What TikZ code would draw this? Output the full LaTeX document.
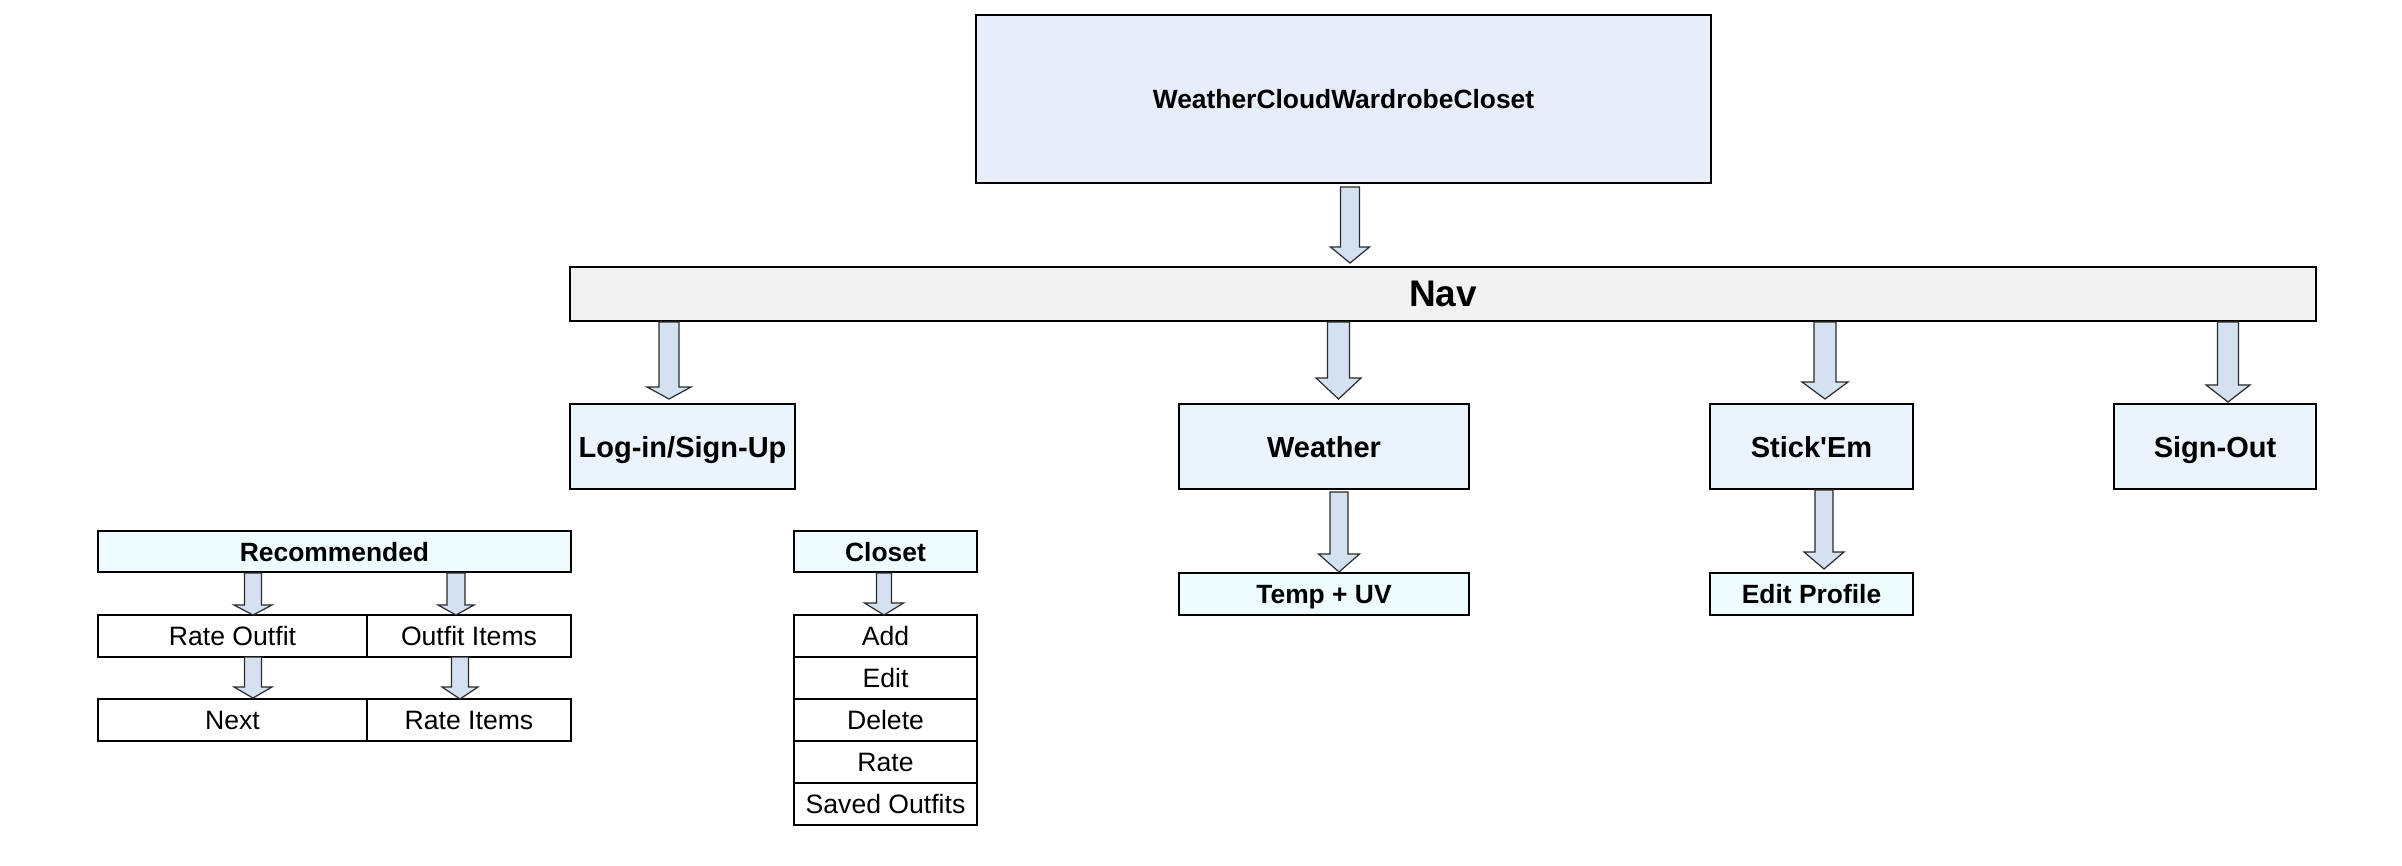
\documentclass[tikz,border=0pt]{standalone}
\usepackage{fontspec}
\setmainfont{Liberation Sans}
\usetikzlibrary{calc}
\definecolor{topfill}{HTML}{E8EEF9}
\definecolor{navfill}{HTML}{F2F2F2}
\definecolor{lvlfill}{HTML}{EBF3FD}
\definecolor{subfill}{HTML}{EEFCFF}
\definecolor{arrfill}{HTML}{D4E1F0}
\definecolor{arrline}{HTML}{2B2B2B}
\tikzset{
  box/.style={draw=black, line width=0.8pt, inner sep=0pt, outer sep=0pt, align=center,
    text depth=0pt},
  sz/.style 2 args={minimum width=#1*0.5pt, minimum height=#2*0.5pt},
  topbox/.style={box, fill=topfill, font=\fontsize{13.2}{16}\selectfont\bfseries},
  navbox/.style={box, fill=navfill, font=\fontsize{18.5}{22}\selectfont\bfseries},
  lvlbox/.style={box, fill=lvlfill, font=\fontsize{14.5}{17}\selectfont\bfseries},
  subbox/.style={box, fill=subfill, font=\fontsize{13.2}{16}\selectfont\bfseries},
  itembox/.style={box, fill=white, font=\fontsize{13.3}{16}\selectfont},
  blockarr/.style={draw=arrline, fill=arrfill, line width=0.6pt, line join=miter},
}
% #1 x (px), #2 source, #3 target, #4 shaft half width, #5 head half width, #6 head length, #7 start gap, #8 end gap (px)
\newcommand{\blockarrow}[8]{%
  \path[blockarr] let \p3=(#1,0), \p1=(#2.south), \p2=(#3.north) in
    (\x3-#4*0.5pt,\y1-#7*0.5pt) -- (\x3+#4*0.5pt,\y1-#7*0.5pt)
    -- (\x3+#4*0.5pt,\y2+#8*0.5pt+#6*0.5pt) -- (\x3+#5*0.5pt,\y2+#8*0.5pt+#6*0.5pt)
    -- (\x3,\y2+#8*0.5pt)
    -- (\x3-#5*0.5pt,\y2+#8*0.5pt+#6*0.5pt) -- (\x3-#4*0.5pt,\y2+#8*0.5pt+#6*0.5pt) -- cycle;}
\begin{document}
\begin{tikzpicture}[x=0.5pt, y=-0.5pt]
\useasboundingbox (0,0) rectangle (2402,866);
\fill[white] (0,0) rectangle (2402,866);

\node[topbox, sz={735}{168}] (top) at (1343.5,99) {WeatherCloudWardrobeCloset};
\node[navbox, sz={1746}{54}] (nav) at (1443,294) {Nav};

\node[lvlbox, sz={225}{85}] (login) at (682.5,446.5) {Log-in/Sign-Up};
\node[lvlbox, sz={290}{85}] (weather) at (1324,446.5) {Weather};
\node[lvlbox, sz={203}{85}] (stickem) at (1811.5,446.5) {Stick\textquotesingle Em};
\node[lvlbox, sz={202}{85}] (signout) at (2215,446.5) {Sign-Out};

\node[subbox, sz={290}{42}] (temp) at (1324,594) {Temp + UV};
\node[subbox, sz={203}{42}] (editp) at (1811.5,594) {Edit Profile};

\node[subbox, sz={473}{41}] (rec) at (334.5,551.5) {Recommended};
\node[itembox, sz={269}{42}] (rateout) at (232.5,636) {Rate Outfit};
\node[itembox, sz={204}{42}] (outitems) at (469,636) {Outfit Items};
\node[itembox, sz={269}{42}] (next) at (232.5,720) {Next};
\node[itembox, sz={204}{42}] (rateitems) at (469,720) {Rate Items};

\node[subbox, sz={183}{41}] (closet) at (885.5,551.5) {Closet};
\node[itembox, sz={183}{42}] (add) at (885.5,636) {Add};
\node[itembox, sz={183}{42}] (edit) at (885.5,678) {Edit};
\node[itembox, sz={183}{42}] (delete) at (885.5,720) {Delete};
\node[itembox, sz={183}{42}] (rate) at (885.5,762) {Rate};
\node[itembox, sz={183}{42}] (saved) at (885.5,804) {Saved Outfits};

\blockarrow{1350}{top}{nav}{9.5}{19.5}{16}{4}{4}
\blockarrow{669}{nav}{login}{10}{22}{12}{1}{5}
\blockarrow{1338.5}{nav}{weather}{11}{22.5}{21}{1}{5}
\blockarrow{1825}{nav}{stickem}{11}{23}{17}{1}{5}
\blockarrow{2228}{nav}{signout}{10.5}{22}{17}{1}{2}
\blockarrow{1339}{weather}{temp}{9}{20.5}{18}{3}{1}
\blockarrow{1824}{stickem}{editp}{9}{20}{17}{1}{4}
\blockarrow{253}{rec}{rateout}{8.5}{19}{10}{1}{0}
\blockarrow{456}{rec}{outitems}{9}{18}{10}{1}{0}
\blockarrow{253}{rateout}{next}{8.5}{19}{11}{0}{1}
\blockarrow{460}{outitems}{rateitems}{8.5}{18}{12}{0}{0}
\blockarrow{884}{closet}{add}{7.5}{19.5}{12}{1}{0}
\end{tikzpicture}
\end{document}
